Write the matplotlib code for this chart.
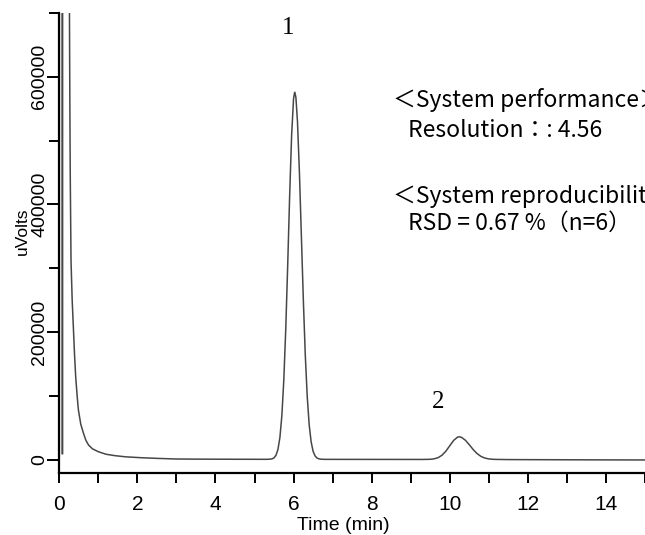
"""HPLC chromatogram: system suitability (resolution / reproducibility)."""
import matplotlib
matplotlib.use("Agg")
import matplotlib.pyplot as plt
from matplotlib import font_manager
from matplotlib.ticker import MultipleLocator

# retention time (min) and detector signal (uVolts)
time_min = [
    0.0, 0.003, 0.075, 0.08, 0.085, 0.25, 0.26, 0.27, 0.28, 0.30, 0.33, 0.36,
    0.39, 0.42, 0.46, 0.49, 0.55, 0.62, 0.68, 0.75, 0.85, 1.0, 1.2, 1.43, 1.7,
    2.1, 2.5, 3.0, 3.5, 4.0, 4.5, 5.0, 5.3,
    # peak 1
    5.40, 5.45, 5.50, 5.55, 5.60, 5.65, 5.70, 5.75, 5.80, 5.85, 5.90, 5.95,
    6.00, 6.03, 6.06, 6.10, 6.15, 6.20, 6.25, 6.30, 6.35, 6.40, 6.45, 6.50,
    6.55, 6.60, 6.65, 6.70,
    6.8, 7.5, 8.5, 9.3,
    # peak 2
    9.5, 9.6, 9.7, 9.8, 9.9, 10.0, 10.1, 10.2, 10.24, 10.3, 10.4, 10.5, 10.6,
    10.7, 10.8, 10.9, 11.0, 11.1, 11.2,
    11.5, 12.5, 13.5, 15.0,
]
signal_uv = [
    5000, 2000000, 2000000, 9000, 2000000, 2000000, 700000, 560000, 450000,
    312000, 250000, 208000, 165000, 130000, 98000, 78000, 56000, 41700, 31000,
    23400, 17500, 13000, 9000, 6800, 5000, 3600, 2600, 1600, 1400, 1300, 1200,
    1150, 1100,
    1350, 1900, 3500, 7500, 16650, 35400, 69600, 125500, 205800, 306400,
    414500, 508500, 566100, 576100, 567200, 529300, 449300, 349800, 250100,
    164000, 98900, 54900, 28300, 13700, 6440, 3170, 1840, 1340,
    1050, 1000, 950, 900,
    1160, 1860, 3680, 7460, 13850, 22350, 30750, 35850, 36350, 35550, 30950,
    23950, 16350, 10050, 5650, 3060, 1740, 1170, 950,
    700, 500, 300, 100,
]

y_ticks = [0, 200000, 400000, 600000]
x_ticks = [0, 2, 4, 6, 8, 10, 12, 14]
peak_names = ["1", "2"]
info_lines = [
    "＜System performance＞",
    "Resolution：: 4.56",
    "＜System reproducibility＞",
    "RSD = 0.67 %（n=6）",
]

installed = {f.name for f in font_manager.fontManager.ttflist}
NARROW = "Liberation Sans Narrow" if "Liberation Sans Narrow" in installed else "Liberation Sans"
SANS = "Liberation Sans"
CJK = ["Noto Sans CJK JP", "DejaVu Sans"]
SERIF = "Liberation Serif"

W, H = 645, 535


def main():
    fig = plt.figure(figsize=(W / 100, H / 100), dpi=100)
    ax = fig.add_axes([59.3 / W, (H - 473) / H, (W - 59.3) / W, (473 - 12.7) / H])

    ax.plot(time_min, signal_uv, color="#474747", lw=1.1, solid_joinstyle="miter")

    ax.set_xlim(0, 15)
    ax.set_ylim(-20300, 700000)

    for s in ("top", "right"):
        ax.spines[s].set_visible(False)
    for s in ("left", "bottom"):
        ax.spines[s].set_linewidth(1.6)

    ax.set_xticks(x_ticks)
    ax.set_xticklabels([str(v) for v in x_ticks], fontfamily=NARROW, fontsize=15)
    ax.xaxis.set_minor_locator(MultipleLocator(1))
    ax.set_yticks(y_ticks)
    ax.set_yticklabels([str(v) for v in y_ticks], fontfamily=SANS, fontsize=14,
                       rotation=90, va="center")
    ax.yaxis.set_minor_locator(MultipleLocator(100000))
    ax.tick_params(axis="x", which="both", direction="out", length=7, width=1.4, pad=9)
    ax.tick_params(axis="y", which="major", direction="out", length=9, width=1.4, pad=-1)
    ax.tick_params(axis="y", which="minor", direction="out", length=7, width=1.4)

    ax.set_xlabel("Time (min)", fontfamily=NARROW, fontsize=14)
    ax.xaxis.set_label_coords(0.485, -0.095)
    ax.set_ylabel("uVolts", fontfamily=SANS, fontsize=12.5)
    ax.yaxis.set_label_coords(-0.05, 0.525)

    # peak numbers
    ax.text(5.87, 667000, peak_names[0], family=SERIF, fontsize=18, ha="center", va="baseline")
    ax.text(9.70, 81000, peak_names[1], family=SERIF, fontsize=18, ha="center", va="baseline")

    # system suitability notes (the reference crops them at the right edge)
    for (x, y), line in zip([(393, 107), (408, 137), (393, 203), (408, 230)], info_lines):
        fig.text(x / W, 1 - y / H, line, family=CJK, fontsize=16.5, va="baseline", ha="left")

    fig.savefig("out.png", dpi=100)
    plt.close(fig)


if __name__ == "__main__":
    main()
